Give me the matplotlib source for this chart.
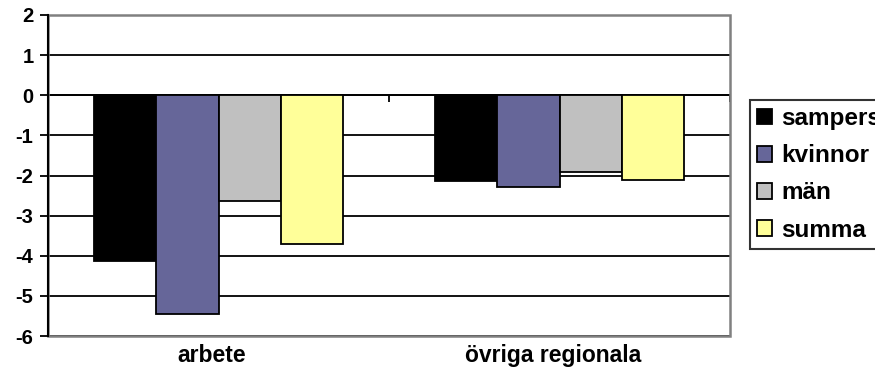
import numpy as np
import matplotlib.pyplot as plt
from matplotlib.patches import Rectangle

plt.rcParams['font.family'] = ['Liberation Sans', 'DejaVu Sans']
plt.rcParams['font.weight'] = 'bold'
plt.rcParams['axes.unicode_minus'] = False

categories = ['arbete', 'övriga regionala']
series = ['sampers', 'kvinnor', 'män', 'summa']
sampers = [-4.13, -2.14]
kvinnor = [-5.44, -2.29]
man = [-2.63, -1.91]
summa = [-3.70, -2.10]
colors = ['#000000', '#666699', '#C0C0C0', '#FFFF99']

fig = plt.figure(figsize=(8.75, 3.71), dpi=100)
ax = fig.add_axes([48 / 875, 1 - 336 / 371, 682 / 875, 321 / 371])

x = np.arange(len(categories))
w = 0.183
values = [sampers, kvinnor, man, summa]
for i, (name, vals) in enumerate(zip(series, values)):
    ax.bar(x + (i - 1.5) * w, vals, width=w, color=colors[i],
           edgecolor='black', linewidth=1.3, label=name, zorder=3)

ax.set_xlim(-0.5, 1.5)
ax.set_ylim(-6, 2)
ax.set_yticks(range(-6, 3))
ax.tick_params(axis='y', direction='out', length=5.5, width=1.3,
               labelsize=14.5, pad=5)
for lbl in ax.get_yticklabels():
    lbl.set_fontweight('bold')
ax.grid(axis='y', color='black', linewidth=1.3, zorder=0)
ax.set_axisbelow(True)

# category axis runs along zero
ax.spines['bottom'].set_position(('data', 0))
ax.spines['bottom'].set_linewidth(1.3)
ax.spines['left'].set_linewidth(1.5)
ax.spines['top'].set_visible(False)
ax.spines['right'].set_visible(False)
ax.set_xticks([])
ax.set_xticks([-0.5, 0.5, 1.5], minor=True)
ax.tick_params(axis='x', which='minor', direction='out', length=5, width=1.3)
for xi, cat in zip(x, categories):
    ax.text(xi - 0.02, -0.025, cat, transform=ax.get_xaxis_transform(),
            ha='center', va='top', fontsize=16.5, fontweight='bold')

# plot-area frame
ax.add_patch(Rectangle((0, 0), 1, 1, transform=ax.transAxes, fill=False,
                       edgecolor='#808080', linewidth=1.8, zorder=4,
                       clip_on=False))
ax.spines['left'].set_zorder(5)

leg = ax.legend(loc='upper left', bbox_to_anchor=(750 / 875, 1 - 100 / 371),
                bbox_transform=fig.transFigure, frameon=True, fancybox=False,
                edgecolor='black', prop={'size': 17.5, 'weight': 'bold'},
                handlelength=0.6, handleheight=0.6, handletextpad=0.4,
                borderpad=0.3, labelspacing=0.58, borderaxespad=0)
leg.get_frame().set_linewidth(1.5)

fig.savefig('out.png', dpi=100)
